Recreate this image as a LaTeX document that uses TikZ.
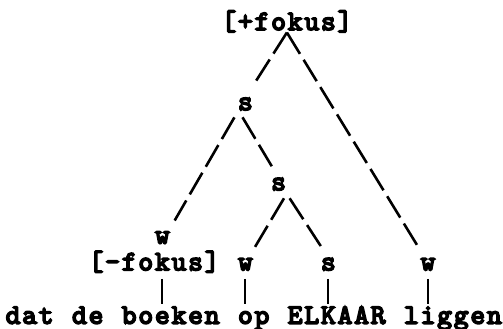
\documentclass[tikz,border=0pt]{standalone}
\usepackage{fontspec}
\newfontfamily\typew{lmmono10-regular.otf}[FakeBold=6]
\newlength\cellw
\setlength\cellw{16.6pt}
\makeatletter
% set a string on a fixed typewriter grid, one character per cell
\newcommand\cellrow[1]{\@tfor\cellch:=#1\do{\makebox[\cellw][c]{\cellch}}}
\makeatother
\begin{document}
\begin{tikzpicture}[
  x=16.6pt, y=-26.7pt,
  lbl/.style={anchor=base, inner sep=0pt, font=\typew\fontsize{28}{28}\selectfont},
  branch/.style={line width=2.6pt, dash pattern=on 25pt off 7pt},
  bar/.style={line width=2pt}
]
\useasboundingbox (-13pt,30pt) rectangle (490pt,-299pt);
\fill[white] (-13pt,30pt) rectangle (490pt,-299pt);

% nodes on the column/row grid
\node[lbl] (top)    at (16.5,0) {\cellrow{[+fokus]}};
\node[lbl] (s1)     at (14,3)   {\cellrow{s}};
\node[lbl] (s2)     at (16,6)   {\cellrow{s}};
\node[lbl] (w1)     at (9,8)    {\cellrow{w}};
\node[lbl] (minfok) at (8.5,9)  {\cellrow{[-fokus]}};
\node[lbl] (w2)     at (14,9)   {\cellrow{w}};
\node[lbl] (s3)     at (19,9)   {\cellrow{s}};
\node[lbl] (w3)     at (25,9)   {\cellrow{w}};
\node[lbl] (words)  at (14.5,11) {\cellrow{dat~de~boeken~op~ELKAAR~liggen}};

% tree branches
\draw[branch, shorten >=19pt] (top.south) -- (s1.north);
\draw[branch, shorten >=15.5pt] (top.south) -- ([xshift=-3pt]w3.north);
\draw[branch, shorten <=8pt, shorten >=12.5pt] ([xshift=-7pt]s1.south) -- ([xshift=6pt]w1.north);
\draw[branch, shorten <=8pt, shorten >=13pt] ([xshift=-7pt]s1.south) -- (s2.north);
\draw[branch, shorten <=9pt, shorten >=13pt] ([xshift=10pt]s2.south) -- ([xshift=3pt]w2.north);
\draw[branch, shorten <=9.2pt, shorten >=13.5pt] ([xshift=6pt]s2.south) -- (s3.north);

% association lines to the words
\foreach \n in {w1,w2,s3,w3}
  \draw[bar, shorten <=6pt, shorten >=2.5pt] (\n |- minfok.south) -- (\n |- words.north);
\end{tikzpicture}
\end{document}
